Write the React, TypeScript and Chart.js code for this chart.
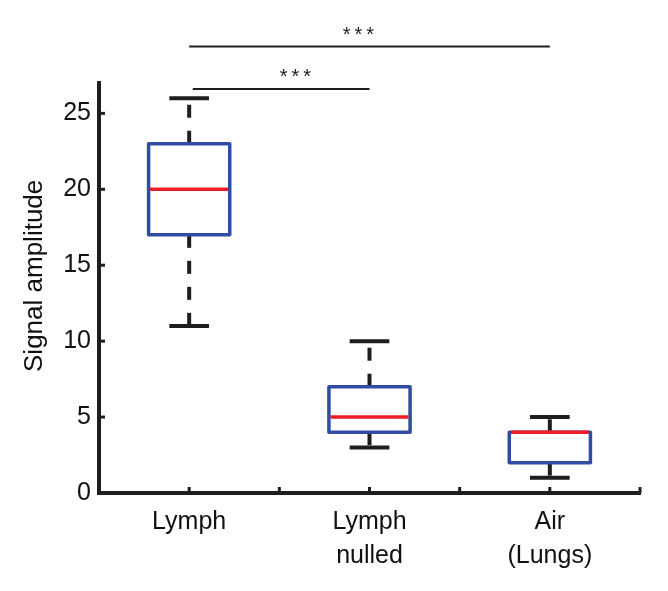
import React, { useEffect, useRef } from 'react';
import { Chart, registerables } from 'chart.js';

Chart.register(...registerables);

// ---- data ----
const categories: string[][] = [['Lymph'], ['Lymph', 'nulled'], ['Air', '(Lungs)']];
const categoryPositions = [1, 2, 3];
const whiskerLow = [11, 3, 1];
const quartile1 = [17, 4, 2];
const medians = [20, 5, 4];
const quartile3 = [23, 7, 4];
const whiskerHigh = [26, 10, 5];
const yTickValues = [0, 5, 10, 15, 20, 25];
const yAxisTitle = 'Signal amplitude';

// significance brackets
const sigFrom = [1.02, 1];
const sigTo = [2, 3];
const sigLevel = [26.6, 29.4];
const sigLabelX = [1.6, 1.95];
const sigLabels = ['***', '***'];

// ---- styles ----
const AXIS = '#1e1e1e';
const TEXT = '#111111';
const BLUE = '#2f4ea3';
const RED = '#ee1c25';
const FONT = 'Liberation Sans, Arial, Helvetica, sans-serif';

const boxPlugin = {
  id: 'boxplotDraw',
  afterDraw(chart: any) {
    const { ctx } = chart;
    const xs = chart.scales.x;
    const ys = chart.scales.y;
    ctx.save();

    // inward tick marks
    ctx.strokeStyle = AXIS;
    ctx.lineWidth = 3;
    ctx.setLineDash([]);
    xs.ticks.forEach((t: any) => {
      const px = xs.getPixelForValue(t.value);
      ctx.beginPath();
      ctx.moveTo(px, ys.bottom);
      ctx.lineTo(px, ys.bottom - 6);
      ctx.stroke();
    });
    ys.ticks.forEach((t: any) => {
      const py = ys.getPixelForValue(t.value);
      ctx.beginPath();
      ctx.moveTo(xs.left, py);
      ctx.lineTo(xs.left + 6, py);
      ctx.stroke();
    });

    const boxHalf = 0.225;
    const capHalf = 0.11;

    categoryPositions.forEach((c, i) => {
      const cx = xs.getPixelForValue(c);
      const bl = xs.getPixelForValue(c - boxHalf);
      const br = xs.getPixelForValue(c + boxHalf);
      const cl = xs.getPixelForValue(c - capHalf);
      const cr = xs.getPixelForValue(c + capHalf);
      const yLo = ys.getPixelForValue(whiskerLow[i]);
      const yQ1 = ys.getPixelForValue(quartile1[i]);
      const yMed = ys.getPixelForValue(medians[i]);
      const yQ3 = ys.getPixelForValue(quartile3[i]);
      const yHi = ys.getPixelForValue(whiskerHigh[i]);

      // whiskers (dashed)
      ctx.strokeStyle = AXIS;
      ctx.lineWidth = 4;
      ctx.lineCap = 'butt';
      ctx.setLineDash([13, 13]);
      ctx.beginPath();
      ctx.moveTo(cx, yQ3);
      ctx.lineTo(cx, yHi);
      ctx.stroke();
      ctx.beginPath();
      ctx.moveTo(cx, yQ1);
      ctx.lineTo(cx, yLo);
      ctx.stroke();
      ctx.setLineDash([]);

      // caps
      ctx.beginPath();
      ctx.moveTo(cl, yHi);
      ctx.lineTo(cr, yHi);
      ctx.moveTo(cl, yLo);
      ctx.lineTo(cr, yLo);
      ctx.stroke();

      // box
      ctx.strokeStyle = BLUE;
      ctx.lineWidth = 3.5;
      ctx.lineJoin = 'round';
      ctx.strokeRect(bl, yQ3, br - bl, yQ1 - yQ3);

      // median
      ctx.strokeStyle = RED;
      ctx.lineWidth = 3.5;
      ctx.beginPath();
      ctx.moveTo(bl + 1.5, yMed);
      ctx.lineTo(br - 1.5, yMed);
      ctx.stroke();
    });

    // significance brackets
    ctx.strokeStyle = AXIS;
    ctx.lineWidth = 2;
    ctx.fillStyle = AXIS;
    ctx.font = `20px ${FONT}`;
    ctx.textAlign = 'center';
    ctx.textBaseline = 'alphabetic';
    try { (ctx as any).letterSpacing = '4px'; } catch (e) { /* ignore */ }
    sigFrom.forEach((f, i) => {
      const py = ys.getPixelForValue(sigLevel[i]);
      ctx.beginPath();
      ctx.moveTo(xs.getPixelForValue(f), py);
      ctx.lineTo(xs.getPixelForValue(sigTo[i]), py);
      ctx.stroke();
      ctx.fillText(sigLabels[i], xs.getPixelForValue(sigLabelX[i]), py - 6);
    });
    try { (ctx as any).letterSpacing = '0px'; } catch (e) { /* ignore */ }

    // y axis title
    ctx.fillStyle = TEXT;
    ctx.font = `26px ${FONT}`;
    ctx.textAlign = 'center';
    ctx.textBaseline = 'middle';
    ctx.translate(xs.left - 64, ys.getPixelForValue(14.3));
    ctx.rotate(-Math.PI / 2);
    ctx.fillText(yAxisTitle, 0, 0);

    ctx.restore();
  },
};

export default function App() {
  const canvasRef = useRef<HTMLCanvasElement | null>(null);

  useEffect(() => {
    if (!canvasRef.current) return;
    const chart = new Chart(canvasRef.current, {
      type: 'scatter',
      data: { datasets: [] },
      options: {
        animation: false,
        responsive: false,
        layout: { padding: { top: 75, right: 20, left: 0, bottom: 0 } },
        plugins: {
          legend: { display: false },
          tooltip: { enabled: false },
        },
        scales: {
          x: {
            type: 'linear',
            min: 0.5,
            max: 3.5,
            grid: { display: false, drawTicks: false },
            border: { display: true, color: AXIS, width: 4 },
            ticks: {
              stepSize: 0.5,
              autoSkip: false,
              maxRotation: 0,
              includeBounds: false,
              padding: 12,
              color: TEXT,
              font: { family: FONT, size: 25, lineHeight: 1.36 },
              callback: (v: any) => {
                const idx = categoryPositions.indexOf(Number(v));
                return idx >= 0 ? categories[idx] : '';
              },
            },
            afterFit: (s: any) => { s.height = 90; },
          },
          y: {
            type: 'linear',
            min: 0,
            max: 27,
            grid: { display: false, drawTicks: false },
            border: { display: true, color: AXIS, width: 4 },
            afterBuildTicks: (s: any) => {
              s.ticks = yTickValues.map((v) => ({ value: v }));
            },
            ticks: {
              padding: 8,
              color: TEXT,
              font: { family: FONT, size: 25 },
            },
            title: { display: false },
            afterFit: (s: any) => { s.width = 91; },
          },
        },
      },
      plugins: [boxPlugin],
    });
    return () => chart.destroy();
  }, []);

  return (
    <div style={{ width: 652, height: 575 }}>
      <canvas ref={canvasRef} width={652} height={575} />
    </div>
  );
}
